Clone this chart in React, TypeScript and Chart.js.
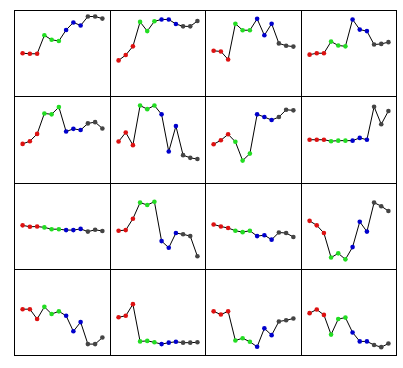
import React, { useEffect, useRef } from "react";
import { Chart, registerables } from "chart.js";

Chart.register(...registerables);

const pointColors = [
  "#dd1111", "#dd1111", "#dd1111",
  "#22dd22", "#22dd22", "#22dd22",
  "#0000cc", "#0000cc", "#0000cc",
  "#444444", "#444444", "#444444",
];

const panel1 = [43.3, 42.7, 42.7, 63.3, 58.3, 57, 69.3, 77.7, 74.3, 84.3, 84.3, 82];
const panel2 = [35.3, 41.3, 51, 78.3, 68, 79, 81, 81, 76, 73.3, 73.3, 79.3];
const panel3 = [46, 45.3, 36.3, 76.3, 69, 69, 81.7, 63.3, 76.3, 54.3, 51.7, 50.7];
const panel4 = [41.7, 43.3, 43.3, 56.3, 52, 51, 81, 69.7, 68, 53, 53.7, 55.7];
const panel5 = [38.7, 41.7, 49.7, 72.3, 71.3, 79.3, 52.3, 55.3, 54, 61.3, 62.7, 55.7];
const panel6 = [41.3, 51.3, 37.3, 81, 77, 81, 71.3, 30.3, 58.3, 26.3, 23.3, 22];
const panel7 = [38.3, 42.7, 49.3, 41, 20.3, 28, 71.3, 68.3, 65, 68.3, 76.3, 75.7];
const panel8 = [43.3, 43.3, 43.3, 41.7, 42.3, 42.3, 42.3, 45.3, 43.3, 79.7, 60.3, 75];
const panel9 = [44.3, 42.7, 43, 42, 40, 40, 39, 39, 40.3, 37.3, 39.3, 38];
const panel10 = [38.3, 39, 51.7, 69.7, 67, 70.7, 26.7, 19.3, 35.7, 34.3, 32.3, 9.7];
const panel11 = [45.3, 43, 41.3, 38.3, 36.7, 38.3, 32.3, 33.3, 28.3, 36.3, 35.7, 31.3];
const panel12 = [49.3, 44.3, 35.7, 8.3, 13, 6.3, 20, 48.3, 37.3, 69.7, 65.7, 60.3];
const panel13 = [46.7, 46.7, 35.7, 49.3, 41.3, 44.3, 39.3, 22, 32.3, 7.7, 7.7, 15];
const panel14 = [37.7, 39.3, 52.3, 10.7, 11.3, 9.7, 7.7, 9.3, 10.3, 9.3, 9.3, 9.7];
const panel15 = [44.3, 40.7, 44.3, 11.7, 14.3, 10.3, 4.7, 25.3, 17.7, 33, 34.3, 36.3];
const panel16 = [42.3, 46.3, 40.3, 18.3, 35.7, 37.3, 20.7, 10.7, 10.7, 6.7, 4.3, 8.3];

const panels = [
  panel1, panel2, panel3, panel4,
  panel5, panel6, panel7, panel8,
  panel9, panel10, panel11, panel12,
  panel13, panel14, panel15, panel16,
];

const colX = [14, 110, 205, 301, 396];
const rowY = [10, 96, 183, 269, 355];

function Panel({ values, w, h }: { values: number[]; w: number; h: number }) {
  const ref = useRef<HTMLCanvasElement | null>(null);
  useEffect(() => {
    if (!ref.current) return;
    const chart = new Chart(ref.current, {
      type: "line",
      data: {
        datasets: [
          {
            data: values.map((v, i) => ({ x: i, y: v })),
            borderColor: "#000000",
            borderWidth: 1,
            pointBackgroundColor: pointColors,
            pointBorderColor: pointColors,
            pointRadius: 2.3,
            pointBorderWidth: 0,
            tension: 0,
            clip: false as any,
          },
        ],
      },
      options: {
        animation: false,
        responsive: false,
        events: [],
        layout: { padding: 0 },
        plugins: { legend: { display: false }, tooltip: { enabled: false } },
        scales: {
          x: { type: "linear", min: -0.5, max: 11.5, display: false },
          y: { type: "linear", min: 0, max: 86, display: false },
        },
      },
    });
    return () => chart.destroy();
  }, [values]);
  return <canvas ref={ref} width={w} height={h} style={{ display: "block", width: w, height: h }} />;
}

export default function App() {
  const cells: React.ReactNode[] = [];
  for (let r = 0; r < 4; r++) {
    for (let c = 0; c < 4; c++) {
      const left = colX[c];
      const top = rowY[r];
      const w = colX[c + 1] - colX[c] + 1;
      const h = rowY[r + 1] - rowY[r] + 1;
      cells.push(
        <div
          key={r * 4 + c}
          style={{
            position: "absolute",
            left,
            top,
            width: w,
            height: h,
            boxSizing: "border-box",
            border: "1px solid #000",
          }}
        >
          <Panel values={panels[r * 4 + c]} w={w - 2} h={h - 2} />
        </div>
      );
    }
  }
  return (
    <div style={{ position: "absolute", left: 0, top: 0, width: 403, height: 368, background: "#fff" }}>
      {cells}
    </div>
  );
}
